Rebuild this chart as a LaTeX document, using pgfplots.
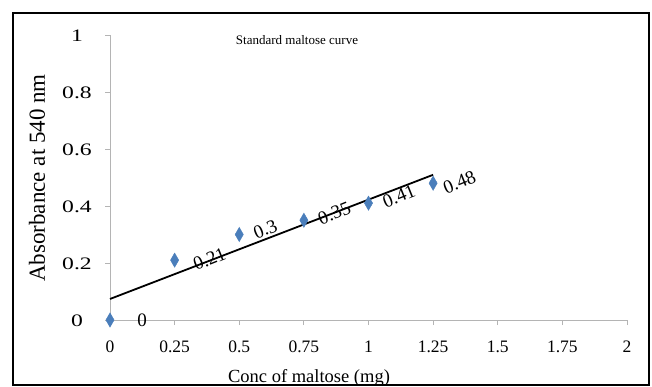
\documentclass[border=0pt]{standalone}
\usepackage{pgfplots}
\pgfplotsset{compat=1.18}
\usepackage{fontspec}
\setmainfont{Liberation Serif}
\usepackage{graphicx}
\definecolor{ptblue}{RGB}{74,126,187}
\definecolor{axgray}{RGB}{180,180,180}
\begin{document}
\begin{tikzpicture}
\path[use as bounding box] (0,0) rectangle (652pt,-387pt);
\draw[black, line width=2.5pt] (13pt,-13pt) rectangle (649pt,-385pt);
\begin{axis}[
  at={(110pt,-320pt)}, anchor=south west,
  scale only axis, width=517pt, height=285pt,
  xmin=0, xmax=2, ymin=0, ymax=1,
  axis lines*=left,
  axis line style={axgray, line width=0.8pt},
  tick style={axgray, line width=0.8pt},
  tick align=outside, major tick length=5pt,
  xtick={0,0.25,0.5,0.75,1,1.25,1.5,1.75,2},
  ytick={0,0.2,0.4,0.6,0.8,1},
  /pgf/number format/assume math mode=true,
  xticklabel style={font=\fontsize{17.5}{20}\selectfont, yshift=-12pt},
  yticklabel={\scalebox{1.35}[1]{\pgfmathprintnumber{\tick}}},
  yticklabel style={font=\fontsize{17.5}{20}\selectfont, anchor=center, xshift=-28pt, yshift=-1pt},
  clip=false,
]
\addplot[black, line width=1.8pt] coordinates {(0,0.0738) (1.25,0.5095)};
\addplot[only marks, mark=diamond*, mark size=5.5pt, color=ptblue,
  mark options={yscale=1.3, fill=ptblue, draw=ptblue},
  point meta=explicit symbolic,
  nodes near coords,
  nodes near coords style={black, font=\fontsize{19}{21}\selectfont, anchor=west, rotate=22, xshift=14pt, yshift=-5pt, inner sep=0pt}]
  coordinates {(0.5,0.30)[0.3] (0.75,0.35)[0.35] (1,0.41)[0.41]};
\addplot[only marks, mark=diamond*, mark size=5.5pt, color=ptblue,
  mark options={yscale=1.3, fill=ptblue, draw=ptblue},
  point meta=explicit symbolic,
  nodes near coords,
  nodes near coords style={black, font=\fontsize{19}{21}\selectfont, anchor=west, rotate=22, xshift=8pt, yshift=-9pt, inner sep=0pt}]
  coordinates {(1.25,0.48)[0.48]};
\addplot[only marks, mark=diamond*, mark size=5.5pt, color=ptblue,
  mark options={yscale=1.3, fill=ptblue, draw=ptblue},
  point meta=explicit symbolic,
  nodes near coords,
  nodes near coords style={black, font=\fontsize{19}{21}\selectfont, anchor=west, rotate=22, xshift=16pt, yshift=-12pt, inner sep=0pt}]
  coordinates {(0.25,0.21)[0.21]};
\addplot[only marks, mark=diamond*, mark size=5.5pt, color=ptblue,
  mark options={yscale=1.3, fill=ptblue, draw=ptblue},
  point meta=explicit symbolic,
  nodes near coords,
  nodes near coords style={black, font=\fontsize{19}{21}\selectfont, anchor=center, xshift=32pt, yshift=0pt, inner sep=0pt}]
  coordinates {(0,0)[0]};
\end{axis}
\node[font=\fontsize{13}{15}\selectfont] at (297pt,-40pt) {Standard maltose curve};
\node[font=\fontsize{18.5}{21}\selectfont] at (309pt,-378pt) {Conc of maltose (mg)};
\node[font=\fontsize{23}{26}\selectfont, rotate=90] at (37pt,-178pt) {Absorbance at 540 nm};
\end{tikzpicture}
\end{document}
